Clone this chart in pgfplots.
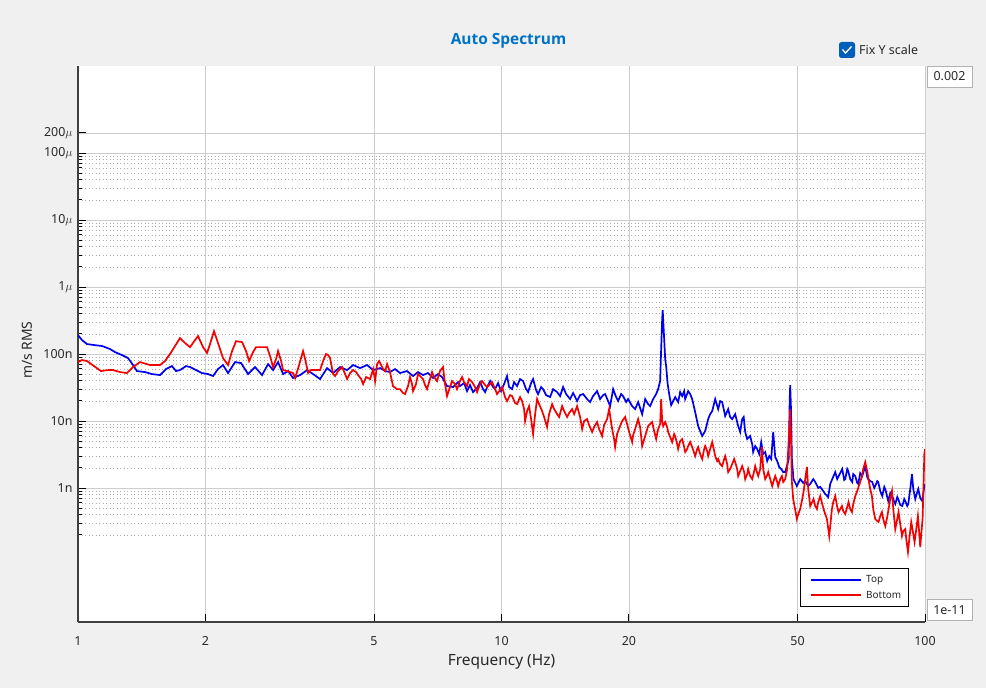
\documentclass[border=0pt]{standalone}
\usepackage{fontspec}
\setmainfont{Noto Sans}
\newfontfamily\titlefont{Open Sans}
\usepackage{pgfplots}
\pgfplotsset{compat=1.18}
\usepackage{pgfplotstable}
\definecolor{bggray}{RGB}{240,240,240}
\definecolor{titleblue}{RGB}{0,114,198}
\definecolor{chkblue}{RGB}{0,95,184}
\definecolor{gridgray}{RGB}{205,205,205}
\definecolor{axisgray}{RGB}{64,64,64}
\definecolor{txtgray}{RGB}{40,40,40}
\definecolor{topblue}{RGB}{0,0,240}
\definecolor{botred}{RGB}{245,0,0}

\pgfplotstableread{
f v
1.000 1.92e-7
1.022 1.62e-7
1.050 1.41e-7
1.096 1.36e-7
1.139 1.32e-7
1.190 1.19e-7
1.223 1.07e-7
1.270 9.67e-8
1.3125 8.72e-8
1.349 6.86e-8
1.378 5.58e-8
1.440 5.39e-8
1.495 5.03e-8
1.562 4.86e-8
1.614 5.98e-8
1.667 6.62e-8
1.704 5.58e-8
1.741 5.77e-8
1.799 6.62e-8
1.839 6.40e-8
1.900 5.77e-8
1.962 5.21e-8
2.028 5.03e-8
2.084 4.70e-8
2.141 5.98e-8
2.200 6.86e-8
2.261 5.21e-8
2.349 7.60e-8
2.427 7.34e-8
2.521 5.03e-8
2.619 6.40e-8
2.720 4.86e-8
2.811 7.10e-8
2.888 5.77e-8
2.968 7.60e-8
3.050 5.03e-8
3.134 5.58e-8
3.220 4.39e-8
3.345 4.86e-8
3.475 5.77e-8
3.590 5.03e-8
3.729 4.24e-8
3.874 6.18e-8
4.003 5.21e-8
4.158 6.40e-8
4.319 5.77e-8
4.463 6.86e-8
4.636 6.18e-8
4.816 6.86e-8
4.976 5.77e-8
5.169 6.18e-8
5.312 5.58e-8
5.454 5.39e-8
5.605 5.98e-8
5.759 5.21e-8
5.982 5.58e-8
6.182 4.70e-8
6.352 5.39e-8
6.527 4.86e-8
6.707 5.21e-8
6.892 4.39e-8
7.082 5.03e-8
7.238 4.54e-8
7.437 3.33e-8
7.684 3.22e-8
7.896 3.82e-8
7.982 3.33e-8
8.158 3.69e-8
8.291 2.80e-8
8.428 3.45e-8
8.567 2.71e-8
8.755 3.11e-8
8.899 3.82e-8
9.046 3.00e-8
9.146 2.71e-8
9.295 3.45e-8
9.397 3.96e-8
9.552 3.22e-8
9.657 3.00e-8
9.815 3.69e-8
9.977 2.80e-8
10.141 3.57e-8
10.307 4.70e-8
10.421 3.22e-8
10.593 3.00e-8
10.708 3.82e-8
10.883 3.33e-8
11.062 4.24e-8
11.245 3.96e-8
11.430 3.00e-8
11.555 2.71e-8
11.746 3.69e-8
11.874 4.24e-8
12.069 2.90e-8
12.201 2.53e-8
12.402 3.22e-8
12.538 3.00e-8
12.744 2.44e-8
13.023 2.28e-8
13.239 3.00e-8
13.528 2.71e-8
13.751 2.36e-8
13.979 3.22e-8
14.208 2.53e-8
14.521 2.13e-8
14.761 2.62e-8
15.084 1.99e-8
15.332 2.44e-8
15.586 2.53e-8
15.927 2.13e-8
16.189 1.92e-8
16.456 2.36e-8
16.816 2.80e-8
17.094 2.13e-8
17.377 2.44e-8
17.568 2.53e-8
17.855 1.99e-8
18.050 1.67e-8
18.348 3.00e-8
18.650 2.28e-8
18.853 1.99e-8
19.164 2.53e-8
19.373 2.36e-8
19.692 1.92e-8
19.907 2.13e-8
20.347 1.67e-8
20.681 1.51e-8
21.020 1.92e-8
21.485 1.27e-8
21.838 2.13e-8
22.195 1.79e-8
22.437 1.67e-8
22.808 2.13e-8
23.183 2.53e-8
23.436 3.00e-8
23.692 3.96e-8
23.823 1.19e-7
23.954 3.33e-7
24.02 4.54e-7
24.15 2.36e-7
24.348 8.43e-8
24.479 6.62e-8
24.68 3.57e-8
24.882 2.53e-8
25.155 1.73e-8
25.429 1.99e-8
25.709 2.28e-8
26.129 1.92e-8
26.414 2.71e-8
26.707 2.36e-8
26.997 2.80e-8
27.145 2.13e-8
27.590 2.80e-8
27.891 2.53e-8
28.200 2.13e-8
28.663 1.36e-8
29.132 8.43e-9
29.450 7.10e-9
29.776 5.98e-9
30.265 7.10e-9
30.761 1.07e-8
31.096 1.27e-8
31.441 1.41e-8
31.958 2.13e-8
32.480 1.51e-8
32.834 1.99e-8
33.198 1.92e-8
33.743 1.19e-8
34.296 1.51e-8
34.670 1.15e-8
35.054 1.07e-8
35.630 1.27e-8
36.213 8.43e-9
36.608 6.86e-9
37.013 1.07e-8
37.318 1.15e-8
37.622 6.86e-9
38.027 5.39e-9
38.654 5.98e-9
39.082 4.54e-9
39.292 3.45e-9
39.724 4.24e-9
40.153 3.82e-9
40.597 3.22e-9
41.041 4.86e-9
41.489 3.22e-9
41.946 3.45e-9
42.398 2.53e-9
42.866 3.00e-9
43.335 2.71e-9
43.809 6.86e-9
44.290 2.90e-9
44.768 2.53e-9
45.263 2.06e-9
45.758 1.92e-9
46.257 1.73e-9
46.766 1.73e-9
47.270 2.20e-9
47.66 2.71e-9
47.92 2.13e-8
48.05 3.45e-8
48.26 1.51e-8
48.49 2.71e-9
48.915 1.36e-9
49.82 1.07e-9
50.736 1.36e-9
51.574 1.19e-9
52.141 1.27e-9
52.994 1.07e-9
53.572 1.15e-9
54.457 1.36e-9
55.055 1.23e-9
55.957 1.00e-9
56.567 1.04e-9
57.501 9.03e-10
58.134 8.14e-10
59.085 7.34e-10
59.729 1.15e-9
60.391 1.36e-9
61.383 1.73e-9
62.045 1.36e-9
62.388 1.46e-9
63.068 1.67e-9
63.767 1.92e-9
64.459 1.32e-9
64.815 1.36e-9
65.514 1.92e-9
65.876 1.79e-9
66.594 1.36e-9
67.332 1.23e-9
67.694 1.62e-9
68.439 1.51e-9
69.177 1.19e-9
69.558 1.15e-9
70.316 1.67e-9
71.095 1.51e-9
72.264 2.13e-9
73.043 1.46e-9
73.446 1.36e-9
74.247 1.27e-9
75.069 1.23e-9
75.885 1.00e-9
76.303 1.07e-9
77.126 1.27e-9
77.552 1.23e-9
78.397 9.03e-10
79.266 7.60e-10
80.127 1.04e-9
80.569 9.67e-10
81.437 7.34e-10
81.888 6.40e-10
82.781 8.43e-10
83.698 7.60e-10
84.607 6.18e-10
85.073 5.77e-10
85.991 7.34e-10
86.465 6.86e-10
87.407 5.58e-10
88.376 5.39e-10
89.336 6.86e-10
89.829 6.40e-10
90.797 5.39e-10
91.299 5.77e-10
92.294 9.67e-10
93.16 1.62e-9
93.82 9.67e-10
94.85 6.86e-10
95.87 8.72e-10
96.403 9.67e-10
97.454 7.10e-10
98.534 6.40e-10
99.06 8.14e-10
99.76 1.15e-9
}\topdata

\pgfplotstableread{
f v
1.000 7.60e-8
1.022 8.14e-8
1.050 7.87e-8
1.091 6.62e-8
1.133 5.58e-8
1.177 5.77e-8
1.210 5.77e-8
1.257 5.39e-8
1.305 5.21e-8
1.349 6.40e-8
1.401 7.60e-8
1.479 6.86e-8
1.562 6.86e-8
1.605 7.87e-8
1.649 1.00e-7
1.695 1.32e-7
1.741 1.73e-7
1.790 1.46e-7
1.839 1.27e-7
1.890 1.62e-7
1.921 1.86e-7
1.974 1.27e-7
2.017 1.04e-7
2.050 1.41e-7
2.095 2.20e-7
2.141 1.46e-7
2.200 8.72e-8
2.261 6.86e-8
2.311 1.11e-7
2.362 1.56e-7
2.440 1.51e-7
2.494 1.11e-7
2.535 7.87e-8
2.590 1.07e-7
2.633 1.27e-7
2.720 1.27e-7
2.795 1.27e-7
2.841 9.34e-8
2.888 6.40e-8
2.936 8.43e-8
2.968 1.11e-7
3.017 7.87e-8
3.050 5.77e-8
3.116 5.58e-8
3.168 5.39e-8
3.220 5.21e-8
3.256 4.39e-8
3.327 6.86e-8
3.400 1.11e-7
3.438 8.43e-8
3.494 5.21e-8
3.551 5.77e-8
3.590 5.77e-8
3.669 5.77e-8
3.729 5.77e-8
3.791 7.87e-8
3.853 1.00e-7
3.895 9.67e-8
3.938 8.72e-8
4.003 5.03e-8
4.047 4.70e-8
4.113 5.58e-8
4.204 6.40e-8
4.273 5.03e-8
4.319 4.24e-8
4.390 5.21e-8
4.463 5.77e-8
4.536 5.39e-8
4.586 4.86e-8
4.662 4.24e-8
4.712 3.57e-8
4.790 4.54e-8
4.895 4.24e-8
4.976 5.98e-8
5.030 3.96e-8
5.085 7.10e-8
5.141 7.87e-8
5.226 6.40e-8
5.254 5.98e-8
5.312 5.58e-8
5.369 7.10e-8
5.454 5.39e-8
5.544 3.33e-8
5.666 3.00e-8
5.759 3.00e-8
5.854 2.62e-8
5.919 2.53e-8
6.016 3.33e-8
6.081 4.54e-8
6.148 3.57e-8
6.182 2.80e-8
6.283 3.57e-8
6.352 5.03e-8
6.457 4.54e-8
6.527 4.24e-8
6.599 3.45e-8
6.670 3.00e-8
6.780 4.24e-8
6.855 5.39e-8
6.930 4.54e-8
7.043 3.96e-8
7.159 5.58e-8
7.277 6.40e-8
7.357 3.57e-8
7.437 2.36e-8
7.559 3.22e-8
7.643 3.96e-8
7.769 3.57e-8
7.852 3.00e-8
7.982 3.96e-8
8.070 4.54e-8
8.158 3.82e-8
8.291 3.33e-8
8.383 4.24e-8
8.521 3.82e-8
8.661 3.22e-8
8.755 2.71e-8
8.899 3.57e-8
8.998 3.96e-8
9.146 3.45e-8
9.244 3.22e-8
9.397 3.57e-8
9.501 3.82e-8
9.657 3.00e-8
9.761 2.53e-8
9.922 2.90e-8
10.032 3.22e-8
10.197 2.28e-8
10.307 1.99e-8
10.477 2.44e-8
10.593 2.36e-8
10.767 1.86e-8
10.883 1.79e-8
11.062 2.28e-8
11.185 1.99e-8
11.306 1.51e-8
11.369 1.00e-8
11.491 1.41e-8
11.618 1.67e-8
11.746 1.07e-8
11.874 6.40e-9
12.005 1.27e-8
12.134 2.13e-8
12.268 1.79e-8
12.471 1.41e-8
12.606 1.15e-8
12.812 8.14e-9
12.954 1.27e-8
13.168 1.79e-8
13.311 1.51e-8
13.528 1.27e-8
13.678 1.15e-8
13.904 1.67e-8
14.055 1.41e-8
14.285 1.15e-8
14.443 1.32e-8
14.681 1.51e-8
14.841 1.27e-8
15.084 1.67e-8
15.332 1.15e-8
15.502 7.60e-9
15.671 1.00e-8
15.927 1.07e-8
16.102 8.72e-9
16.368 6.86e-9
16.546 8.14e-9
16.816 9.67e-9
17.003 7.60e-9
17.284 5.98e-9
17.471 8.72e-9
17.757 1.07e-8
17.953 1.51e-8
18.250 7.60e-9
18.448 5.39e-9
18.550 4.09e-9
18.750 6.40e-9
19.059 8.43e-9
19.270 1.00e-8
19.586 1.15e-8
19.798 9.03e-9
20.016 6.86e-9
20.347 4.86e-9
20.457 6.18e-9
20.681 7.60e-9
21.020 1.07e-8
21.249 8.14e-9
21.485 4.24e-9
21.838 5.98e-9
22.195 8.43e-9
22.437 9.03e-9
22.686 9.67e-9
22.932 7.10e-9
23.183 5.39e-9
23.436 7.60e-9
23.692 9.03e-9
23.823 2.13e-8
23.954 1.00e-8
24.083 8.43e-9
24.348 9.67e-9
24.611 8.14e-9
24.746 6.86e-9
25.016 5.77e-9
25.293 4.86e-9
25.567 6.40e-9
25.709 5.98e-9
25.986 4.54e-9
26.129 3.82e-9
26.414 5.03e-9
26.707 5.39e-9
26.997 4.09e-9
27.145 3.45e-9
27.438 3.82e-9
27.590 4.24e-9
27.891 4.86e-9
28.200 4.09e-9
28.663 3.00e-9
28.972 3.82e-9
29.132 4.09e-9
29.450 3.22e-9
29.776 2.71e-9
30.099 3.82e-9
30.265 4.24e-9
30.591 3.57e-9
30.761 3.00e-9
31.096 3.82e-9
31.441 4.86e-9
31.782 3.57e-9
31.958 3.00e-9
32.302 2.53e-9
32.480 2.71e-9
32.834 2.28e-9
33.198 2.13e-9
33.558 2.71e-9
33.743 3.00e-9
34.107 2.28e-9
34.296 1.73e-9
34.670 1.92e-9
35.054 2.28e-9
35.435 2.71e-9
35.630 2.44e-9
36.014 1.92e-9
36.213 1.51e-9
36.608 1.79e-9
37.013 2.13e-9
37.415 1.73e-9
37.622 1.36e-9
38.027 1.62e-9
38.237 1.92e-9
38.654 1.51e-9
39.082 1.36e-9
39.507 1.79e-9
39.724 2.13e-9
40.153 1.67e-9
40.375 1.51e-9
40.815 1.92e-9
41.19 4.09e-9
41.489 1.92e-9
41.946 1.36e-9
42.398 1.56e-9
42.632 1.73e-9
43.097 1.36e-9
43.574 1.07e-9
44.047 1.36e-9
44.290 1.51e-9
44.768 1.23e-9
45.015 1.07e-9
45.506 1.36e-9
45.93 1.51e-9
46.257 1.23e-9
46.766 1.36e-9
47.270 1.92e-9
47.45 3.00e-9
47.79 7.60e-9
48.05 1.51e-8
48.26 5.39e-9
48.49 1.23e-9
48.84 6.86e-10
49.19 5.39e-10
49.82 3.45e-10
50.189 4.09e-10
50.736 4.86e-10
51.298 6.86e-10
51.66 8.72e-10
52.141 1.36e-9
52.62 2.06e-9
52.994 9.67e-10
53.572 5.39e-10
54.165 6.18e-10
54.55 6.86e-10
55.055 5.39e-10
55.56 4.86e-10
55.957 6.18e-10
56.567 7.60e-10
57.194 5.77e-10
57.60 4.86e-10
58.134 4.09e-10
58.67 3.45e-10
59.41 1.92e-10
60.29 4.86e-10
60.716 6.18e-10
61.383 7.60e-10
62.045 5.21e-10
62.49 4.38e-10
63.068 4.86e-10
63.66 5.39e-10
64.11 4.54e-10
64.815 4.09e-10
65.514 5.21e-10
65.98 6.18e-10
66.594 4.86e-10
67.22 4.38e-10
67.694 5.77e-10
68.439 7.60e-10
69.177 9.03e-10
69.67 1.04e-9
70.316 1.23e-9
70.98 1.51e-9
71.478 1.92e-9
72.264 2.44e-9
73.043 1.79e-9
73.56 1.36e-9
74.247 9.67e-10
74.94 7.60e-10
75.47 4.86e-10
76.303 3.45e-10
77.126 3.22e-10
77.68 3.11e-10
78.397 3.82e-10
79.13 4.38e-10
79.69 3.45e-10
80.569 2.71e-10
81.437 3.69e-10
82.02 4.86e-10
82.781 6.86e-10
83.56 9.03e-10
84.15 4.86e-10
85.073 2.44e-10
85.991 3.45e-10
86.60 4.38e-10
87.407 2.90e-10
88.23 1.92e-10
88.85 2.28e-10
89.829 2.44e-10
90.31 1.73e-10
91.15 1.11e-10
91.80 1.73e-10
92.80 3.11e-10
93.82 2.06e-10
94.49 1.56e-10
95.36 2.44e-10
96.21 3.82e-10
96.93 2.06e-10
97.454 1.32e-10
97.99 2.06e-10
98.69 3.45e-10
99.16 9.67e-10
99.63 3.22e-9
100 3.82e-9
}\bottomdata

\begin{document}
\begin{tikzpicture}[x=1bp,y=1bp]
\fill[bggray] (0,0) rectangle (986,688);
\begin{axis}[
  at={(78bp,66bp)}, anchor=south west,
  scale only axis, width=847bp, height=556bp,
  xmode=log, ymode=log,
  xmin=1, xmax=100, ymin=1e-11, ymax=2e-3,
  axis background/.style={fill=white},
  axis lines=left,
  axis line style={-, draw=axisgray, line width=1.5bp},
  xtick={1,2,5,10,20,50,100},
  xticklabels={1,2,5,10,20,50,100},
  minor xtick={},
  ytick={1e-9,1e-8,1e-7,1e-6,1e-5,1e-4,2e-4},
  yticklabels={1n,10n,100n,1$\mu$,10$\mu$,100$\mu$,200$\mu$},
  minor ytick={2e-10,3e-10,4e-10,5e-10,6e-10,7e-10,8e-10,9e-10,
               2e-9,3e-9,4e-9,5e-9,6e-9,7e-9,8e-9,9e-9,
               2e-8,3e-8,4e-8,5e-8,6e-8,7e-8,8e-8,9e-8,
               2e-7,3e-7,4e-7,5e-7,6e-7,7e-7,8e-7,9e-7,
               2e-6,3e-6,4e-6,5e-6,6e-6,7e-6,8e-6,9e-6,
               2e-5,3e-5,4e-5,5e-5,6e-5,7e-5,8e-5,9e-5},
  tick align=inside,
  major tick length=8bp, minor tick length=4bp,
  tick style={draw=black, line width=1bp},
  xmajorgrids=true, ymajorgrids=true, yminorgrids=true,
  major grid style={draw=gridgray, line width=0.8bp},
  minor grid style={draw=gray!65, line width=0.7bp, dash pattern=on 0.9bp off 2.6bp},
  /pgf/number format/assume math mode=true,
  ticklabel style={font=\fontsize{12.5}{15}\selectfont, text=txtgray},
  xticklabel style={yshift=-11bp},
  yticklabel style={xshift=-2bp},
  xlabel={Frequency (Hz)},
  ylabel={m/s RMS},
  xlabel style={font=\fontsize{15.5}{17}\selectfont, text=txtgray, at={(axis description cs:0.5,-0.072)}, anchor=center},
  ylabel style={font=\fontsize{14}{16}\selectfont, text=txtgray, at={(axis description cs:-0.0602,0.489)}, anchor=center},
]
\addplot[topblue, line width=1.7bp] table[x=f, y=v] {\topdata};
\addplot[botred, line width=1.7bp] table[x=f, y=v] {\bottomdata};
\end{axis}
% legend (Top / Bottom)
\draw[black, line width=0.9bp, fill=white] (800.5,81.5) rectangle (908,119.7);
\fill[topblue] (811,107) rectangle (861,109);
\fill[botred] (811,92) rectangle (861,94);
\node[anchor=west, font=\fontsize{10}{12}\selectfont, text=txtgray, inner sep=0] at (866,108) {Top};
\node[anchor=west, font=\fontsize{10}{12}\selectfont, text=txtgray, inner sep=0] at (866,93) {Bottom};
\node[font=\titlefont\bfseries\fontsize{15.5}{17}\selectfont, text=titleblue] at (508.5,647) {Auto Spectrum};
\fill[chkblue, rounded corners=2.5bp] (839,630) rectangle (855,646);
\draw[white, line width=1.3bp] (842.5,638.5) -- (845.5,635) -- (851.5,641.5);
\node[anchor=west, font=\fontsize{12.5}{14}\selectfont, text=txtgray, inner sep=0] at (859,638) {Fix Y scale};
\node[draw=gray!60, fill=white, minimum width=45bp, minimum height=21bp, inner sep=0, font=\fontsize{12.5}{14}\selectfont, text=txtgray] at (949.5,611.5) {0.002};
\node[draw=gray!60, fill=white, minimum width=45bp, minimum height=21bp, inner sep=0, font=\fontsize{12.5}{14}\selectfont, text=txtgray] at (949.5,78) {1e-11};
\pgfresetboundingbox
\path[use as bounding box] (0,0) rectangle (986,688);
\end{tikzpicture}
\end{document}
